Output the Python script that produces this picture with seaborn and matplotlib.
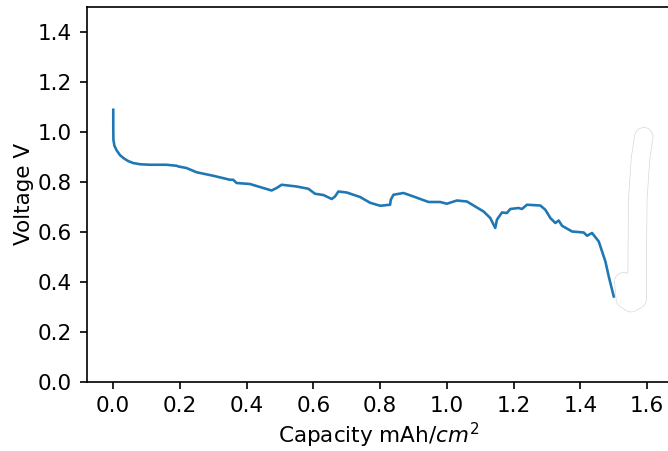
import matplotlib
matplotlib.use("Agg")
import matplotlib.pyplot as plt
import matplotlib.patheffects as pe
import numpy as np
import pandas as pd
import seaborn as sns

# Discharge curve: capacity (mAh/cm^2) vs cell voltage (V)
discharge_capacity = [
    0.0006, 0.0006, 0.001, 0.004, 0.011, 0.021, 0.033, 0.045, 0.060, 0.081,
    0.110, 0.160, 0.190, 0.196, 0.220, 0.250, 0.300, 0.350, 0.360, 0.370,
    0.410, 0.440, 0.475, 0.490, 0.505, 0.550, 0.585, 0.605, 0.630, 0.655,
    0.665, 0.675, 0.700, 0.740, 0.770, 0.800, 0.830, 0.832, 0.840, 0.870,
    0.900, 0.945, 0.980, 1.000, 1.030, 1.060, 1.110, 1.130, 1.145, 1.150,
    1.165, 1.180, 1.190, 1.215, 1.225, 1.240, 1.280, 1.295, 1.310, 1.325,
    1.335, 1.345, 1.375, 1.410, 1.420, 1.435, 1.455, 1.465, 1.475, 1.485,
    1.500,
]
discharge_voltage = [
    1.088, 1.028, 0.968, 0.944, 0.925, 0.906, 0.893, 0.883, 0.875, 0.870,
    0.868, 0.868, 0.864, 0.861, 0.855, 0.838, 0.824, 0.808, 0.808, 0.795,
    0.791, 0.779, 0.765, 0.775, 0.788, 0.781, 0.772, 0.752, 0.747, 0.731,
    0.741, 0.761, 0.757, 0.739, 0.716, 0.704, 0.708, 0.728, 0.748, 0.755,
    0.741, 0.719, 0.719, 0.712, 0.725, 0.721, 0.681, 0.655, 0.615, 0.648,
    0.677, 0.675, 0.691, 0.695, 0.691, 0.708, 0.705, 0.688, 0.655, 0.635,
    0.645, 0.624, 0.601, 0.597, 0.584, 0.595, 0.561, 0.521, 0.481, 0.421,
    0.341,
]

# Recharge trace, drawn as a wide white stroke
charge_capacity = [1.530, 1.535, 1.552, 1.570, 1.570, 1.572, 1.580, 1.590]
charge_voltage = [0.400, 0.330, 0.316, 0.330, 0.440, 0.730, 0.890, 0.980]

dpi = 150
fig = plt.figure(figsize=(668 / dpi, 451 / dpi), dpi=dpi)
W, H = 668, 451
left_px, right_px, bottom_px, top_px = 86.7, 669.5, 381.7, 6.8
ax = fig.add_axes([left_px / W, (H - bottom_px) / H,
                   (right_px - left_px) / W, (bottom_px - top_px) / H])

df_dis = pd.DataFrame({"cap": discharge_capacity, "v": discharge_voltage})
df_chg = pd.DataFrame({"cap": charge_capacity, "v": charge_voltage})

sns.lineplot(data=df_dis, x="cap", y="v", sort=False, estimator=None,
             ax=ax, color="#1f77b4", linewidth=1.25)
sns.lineplot(data=df_chg, x="cap", y="v", sort=False, estimator=None,
             ax=ax, color="white", linewidth=8.6)
line_chg = ax.lines[-1]
line_chg.set_solid_capstyle("round")
line_chg.set_solid_joinstyle("round")
line_chg.set_path_effects([pe.Stroke(linewidth=9.2, foreground="#d4d4d4"),
                           pe.Normal()])

ticks_x = np.arange(0, 1.61, 0.2)
ticks_y = np.arange(0, 1.41, 0.2)
ax.set_xlim(-0.079, 1.667)
ax.set_ylim(0, 1.5)
ax.set_xticks(ticks_x)
ax.set_yticks(ticks_y)
ax.set_xticklabels([f"{t:.1f}" for t in ticks_x])
ax.set_yticklabels([f"{t:.1f}" for t in ticks_y])
ax.tick_params(labelsize=10.3)
ax.set_xlabel("Capacity mAh/$cm^2$", fontsize=10.3, labelpad=2)
ax.set_ylabel("Voltage V", fontsize=10.3, labelpad=2)

fig.savefig("out.png", dpi=dpi)
